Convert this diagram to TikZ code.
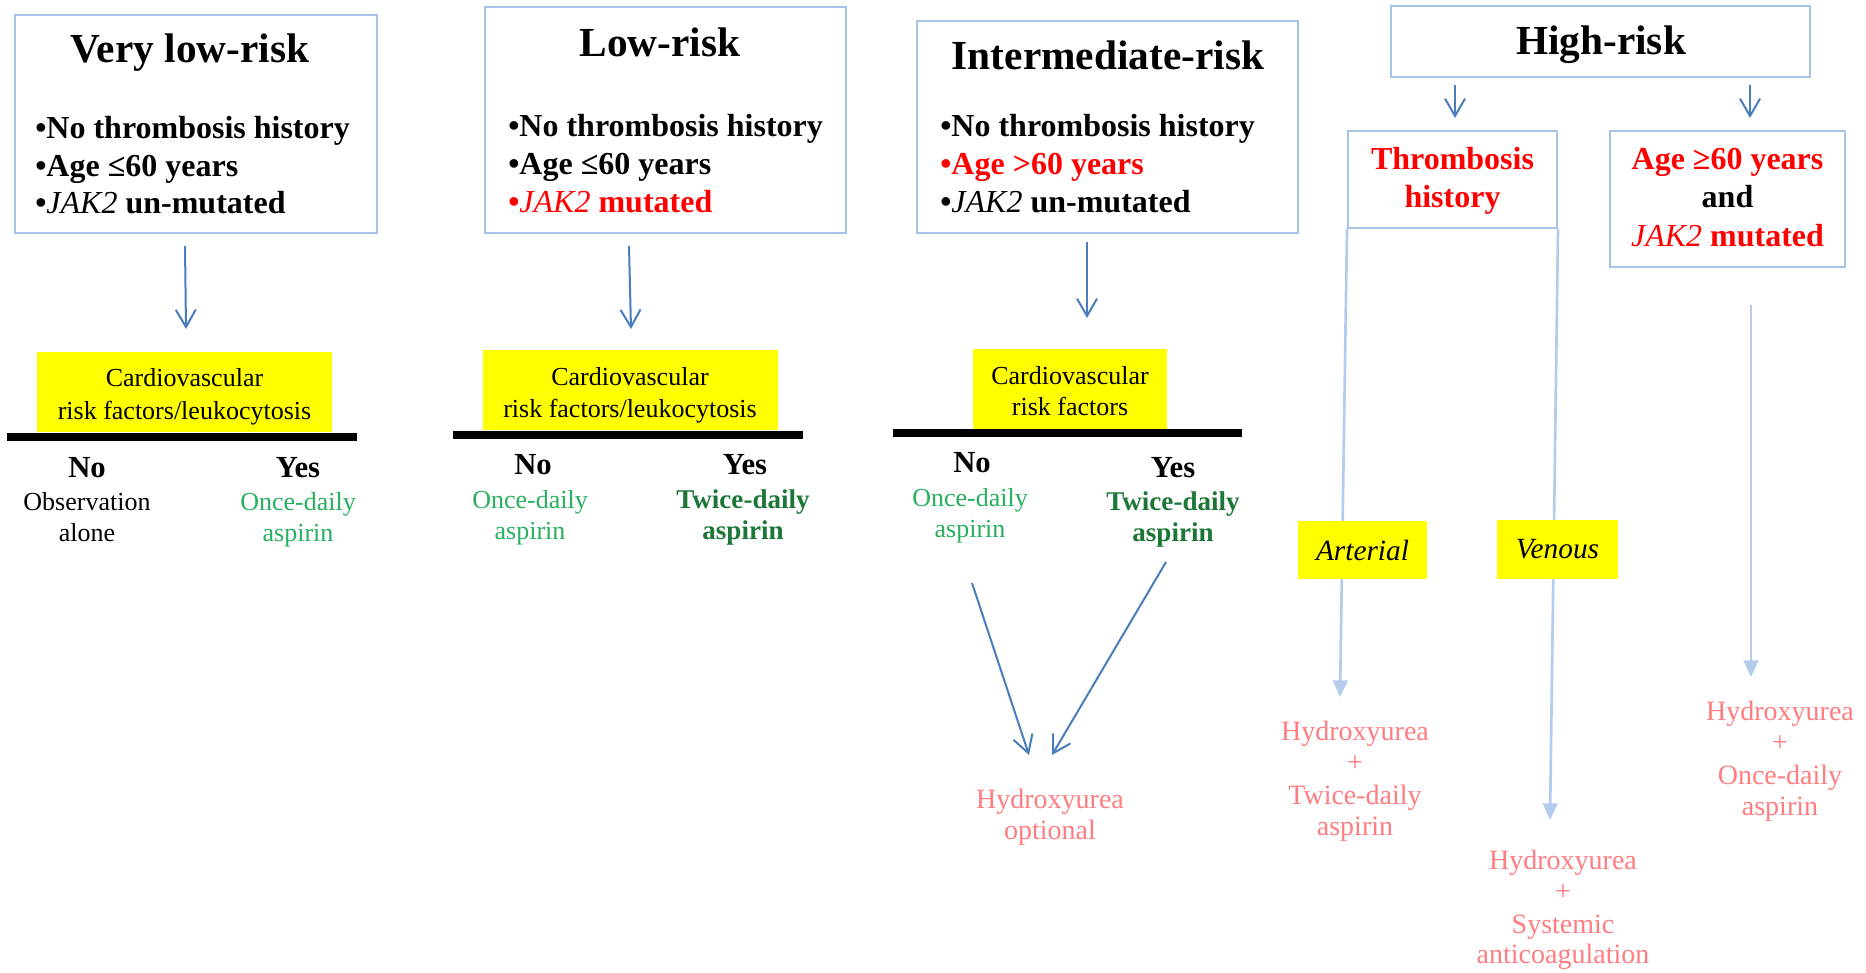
\documentclass[tikz,border=0pt]{standalone}
\usepackage{fontspec}
\setmainfont{Liberation Serif}
\usetikzlibrary{arrows.meta,fit}
\definecolor{boxblue}{RGB}{167,195,230}
\definecolor{arrblue}{RGB}{74,126,187}
\definecolor{lineblue}{RGB}{180,204,235}
\definecolor{pinkred}{RGB}{255,124,128}
\definecolor{lgreen}{RGB}{38,176,95}
\definecolor{dgreen}{RGB}{28,118,56}
\definecolor{yel}{RGB}{255,255,0}
\definecolor{redt}{RGB}{255,0,0}
\newcommand{\jak}{\textmd{\textit{JAK2}}}
\begin{document}
\begin{tikzpicture}[x=0.75pt,y=-0.75pt,
  riskbox/.style={draw=boxblue, line width=1.5pt, inner sep=0pt},
  ybox/.style={fill=yel, inner sep=0pt},
  txt/.style={inner sep=0pt, anchor=base},
  ttl/.style={txt, font=\fontsize{31}{37}\selectfont\bfseries},
  bul/.style={inner sep=0pt, anchor=base west, font=\fontsize{24}{28}\selectfont\bfseries},
  ytx/.style={txt, font=\fontsize{19.5}{23}\selectfont},
  yn/.style={txt, font=\fontsize{23}{27}\selectfont\bfseries},
  trt/.style={txt, font=\fontsize{19.5}{23}\selectfont},
  trtg/.style={trt, text=lgreen},
  trtb/.style={txt, font=\fontsize{20.3}{24}\selectfont\bfseries, text=dgreen},
  hr/.style={txt, font=\fontsize{24}{28}\selectfont\bfseries, text=redt},
  pk/.style={txt, font=\fontsize{21}{25}\selectfont, text=pinkred},
  itbox/.style={fill=yel, inner sep=0pt, font=\fontsize{22}{26}\selectfont\itshape},
  barr/.style={draw=arrblue, line width=1.5pt, -{Straight Barb[length=13pt,width=15pt]}},
  larr/.style={draw=lineblue, line width=2pt, -{Triangle[length=12.5pt,width=11pt]}},
  bar/.style={line width=6pt, draw=black}
]
\useasboundingbox (0,0) rectangle (1866,973);

% ---------- risk boxes ----------
\node[riskbox, fit={(15,15)(377,233)}] (b1) {};
\node[riskbox, fit={(485,7)(846,233)}] (b2) {};
\node[riskbox, fit={(917,21)(1298,233)}] (b3) {};
\node[riskbox, fit={(1391,6)(1810,77)}] (b4) {};
\node[riskbox, fit={(1348,131)(1557,228)}] (thr) {};
\node[riskbox, fit={(1610,131)(1845,267)}] (agebox) {};

% box 1
\node[ttl] (t1) at (190,63) {Very low-risk};
\node[bul] (l11) at (35,139) {•No thrombosis history};
\node[bul] (l12) at (35,177) {•Age ≤60 years};
\node[bul] (l13) at (35,214) {•\jak{} un-mutated};
% box 2
\node[ttl] (t2) at (660,57) {Low-risk};
\node[bul] (l21) at (508,137) {•No thrombosis history};
\node[bul] (l22) at (508,175) {•Age ≤60 years};
\node[bul, text=redt] (l23) at (508,213) {•\jak{} mutated};
% box 3
\node[ttl] (t3) at (1108,70) {Intermediate-risk};
\node[bul] (l31) at (940,137) {•No thrombosis history};
\node[bul, text=redt] (l32) at (940,175) {•Age >60 years};
\node[bul] (l33) at (940,213) {•\jak{} un-mutated};
% box 4
\node[ttl] (t4) at (1601,55) {High-risk};
% thrombosis box
\node[hr] (th1) at (1452.5,170) {Thrombosis};
\node[hr] (th2) at (1452.5,208) {history};
% age box
\node[hr] (ag1) at (1727.5,170) {Age ≥60 years};
\node[hr, text=black] (ag2) at (1727.5,208) {and};
\node[hr] (ag3) at (1727.5,247) {\jak{} mutated};

% ---------- coordinates ----------
\coordinate (a1s) at (185,246); \coordinate (a1e) at (186,329);
\coordinate (a2s) at (629,246); \coordinate (a2e) at (631,329);
\coordinate (a3s) at (1087,242); \coordinate (a3e) at (1087,318);
\coordinate (h1s) at (1455,85); \coordinate (h1e) at (1455,118);
\coordinate (h2s) at (1750,85); \coordinate (h2e) at (1750,118);
\coordinate (i1s) at (972,583); \coordinate (i1e) at (1029,755);
\coordinate (i2s) at (1166,562); \coordinate (i2e) at (1052,755);
\coordinate (tl) at (1340,697); \coordinate (tr) at (1550,820);
\coordinate (ags) at (1751,305); \coordinate (age) at (1751,677);

% ---------- blue arrows ----------
\draw[barr] (a1s) -- (a1e);
\draw[barr] (a2s) -- (a2e);
\draw[barr] (a3s) -- (a3e);
\draw[barr] (h1s) -- (h1e);
\draw[barr] (h2s) -- (h2e);
\draw[barr] (i1s) -- (i1e);
\draw[barr] (i2s) -- (i2e);

% ---------- light blue lines ----------
\draw[larr] (thr.south west) -- (tl);
\draw[larr] (thr.south east) -- (tr);
\draw[larr] (ags) -- (age);

% ---------- yellow boxes ----------
\node[ybox, fit={(37,352)(332,432)}] (y1) {};
\node[ybox, fit={(483,350)(778,430)}] (y2) {};
\node[ybox, fit={(973,349)(1167,429)}] (y3) {};
\node[ytx] (y1a) at (184.5,387) {Cardiovascular};
\node[ytx] (y1b) at (184.5,419) {risk factors/leukocytosis};
\node[ytx] (y2a) at (630,385) {Cardiovascular};
\node[ytx] (y2b) at (630,417) {risk factors/leukocytosis};
\node[ytx] (y3a) at (1070,384) {Cardiovascular};
\node[ytx] (y3b) at (1070,416) {risk factors};

\node[itbox, minimum width=96.75pt, minimum height=43.5pt] (art) at (1362.5,550) {Arterial};
\node[itbox, minimum width=90.75pt, minimum height=44.25pt] (ven) at (1557.5,549.5) {Venous};

% ---------- bars ----------
\draw[bar] (7,437) -- (357,437);
\draw[bar] (453,435) -- (803,435);
\draw[bar] (893,433) -- (1242,433);

% ---------- No / Yes ----------
\node[yn] (n1) at (87,477) {No};
\node[yn] (s1) at (298,477) {Yes};
\node[yn] (n2) at (533,474) {No};
\node[yn] (s2) at (745,474) {Yes};
\node[yn] (n3) at (972,472) {No};
\node[yn] (s3) at (1173,477) {Yes};

% ---------- treatments ----------
\node[trt] (o1a) at (87,510) {Observation};
\node[trt] (o1b) at (87,541) {alone};
\node[trtg] (g1a) at (298,510) {Once-daily};
\node[trtg] (g1b) at (298,541) {aspirin};
\node[trtg] (g2a) at (530,508) {Once-daily};
\node[trtg] (g2b) at (530,539) {aspirin};
\node[trtb] (d2a) at (743,508) {Twice-daily};
\node[trtb] (d2b) at (743,539) {aspirin};
\node[trtg] (g3a) at (970,506) {Once-daily};
\node[trtg] (g3b) at (970,537) {aspirin};
\node[trtb] (d3a) at (1173,510) {Twice-daily};
\node[trtb] (d3b) at (1173,541) {aspirin};

% ---------- pink results ----------
\node[pk] (p1a) at (1050,808) {Hydroxyurea};
\node[pk] (p1b) at (1050,839) {optional};
\node[pk] (p2a) at (1355,740) {Hydroxyurea};
\node[pk] (p2b) at (1355,771) {+};
\node[pk] (p2c) at (1355,804) {Twice-daily};
\node[pk] (p2d) at (1355,835) {aspirin};
\node[pk] (p3a) at (1563,869) {Hydroxyurea};
\node[pk] (p3b) at (1563,900) {+};
\node[pk] (p3c) at (1563,933) {Systemic};
\node[pk] (p3d) at (1563,963) {anticoagulation};
\node[pk] (p4a) at (1780,720) {Hydroxyurea};
\node[pk] (p4b) at (1780,751) {+};
\node[pk] (p4c) at (1780,784) {Once-daily};
\node[pk] (p4d) at (1780,815) {aspirin};
\end{tikzpicture}
\end{document}
